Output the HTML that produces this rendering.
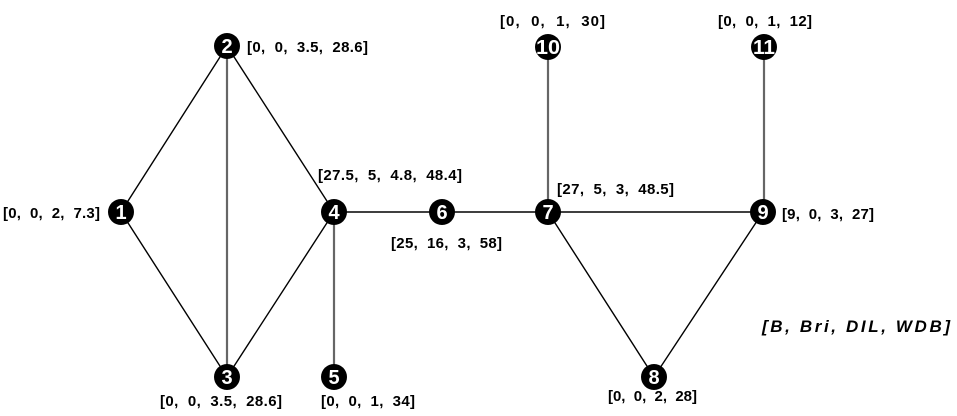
<!DOCTYPE html>
<html><head><meta charset="utf-8"><style>
html,body{margin:0;padding:0;background:#fff;}
svg{display:block;}
text{font-family:"Liberation Sans",Arial,sans-serif;font-weight:bold;font-size:15px;fill:#000;white-space:pre;}
.n{fill:#fff;font-size:20px;text-anchor:middle;}
</style></head><body>
<svg width="957" height="416" viewBox="0 0 957 416">
<g stroke="#000" stroke-width="1.4" fill="none">
<line x1="227" y1="46" x2="121" y2="212"/>
<line x1="227" y1="46" x2="334" y2="212"/>
<line x1="121" y1="212" x2="227" y2="377"/>
<line x1="334" y1="212" x2="227" y2="377"/>
<line x1="334" y1="212" x2="548" y2="212"/>
<line x1="548" y1="212" x2="763" y2="212"/>
<line x1="548" y1="212" x2="654" y2="377"/>
<line x1="763" y1="212" x2="654" y2="377"/>
</g>
<g stroke="#666" stroke-width="2.2">
<line x1="227" y1="46" x2="227" y2="377"/>
<line x1="334" y1="212" x2="334" y2="377"/>
<line x1="548" y1="47" x2="548" y2="212"/>
<line x1="764" y1="47" x2="764" y2="212"/>
</g>
<g fill="#000">
<circle cx="121" cy="212" r="13"/><circle cx="227" cy="46" r="13"/>
<circle cx="227" cy="377" r="13"/><circle cx="334" cy="212" r="13"/>
<circle cx="334" cy="377" r="13"/><circle cx="442" cy="212" r="13"/>
<circle cx="548" cy="212" r="13"/><circle cx="654" cy="377" r="13"/>
<circle cx="763" cy="212" r="13"/><circle cx="548" cy="47" r="13"/>
<circle cx="764" cy="47" r="13"/>
</g>
<text class="n" x="121" y="219">1</text>
<text class="n" x="227" y="53">2</text>
<text class="n" x="227" y="384">3</text>
<text class="n" x="334" y="219">4</text>
<text class="n" x="334" y="384">5</text>
<text class="n" x="442" y="219">6</text>
<text class="n" x="548" y="219">7</text>
<text class="n" x="654" y="384">8</text>
<text class="n" x="763" y="219">9</text>
<text class="n" x="548" y="54" textLength="24" lengthAdjust="spacingAndGlyphs">10</text>
<text class="n" x="764" y="54" textLength="22" lengthAdjust="spacingAndGlyphs">11</text>
<text x="3" y="218" textLength="97" lengthAdjust="spacing">[0,  0,  2,  7.3]</text>
<text x="247" y="52" textLength="121" lengthAdjust="spacing">[0,  0,  3.5,  28.6]</text>
<text x="160" y="406" textLength="122" lengthAdjust="spacing">[0,  0,  3.5,  28.6]</text>
<text x="318" y="180" textLength="144" lengthAdjust="spacing">[27.5,  5,  4.8,  48.4]</text>
<text x="321" y="406" textLength="94" lengthAdjust="spacing">[0,  0,  1,  34]</text>
<text x="391" y="248" textLength="111" lengthAdjust="spacing">[25,  16,  3,  58]</text>
<text x="557" y="194" textLength="117" lengthAdjust="spacing">[27,  5,  3,  48.5]</text>
<text x="608" y="401" textLength="89" lengthAdjust="spacing">[0,  0,  2,  28]</text>
<text x="782" y="219" textLength="92" lengthAdjust="spacing">[9,  0,  3,  27]</text>
<text x="500" y="26" textLength="105" lengthAdjust="spacing">[0,  0,  1,  30]</text>
<text x="718" y="26" textLength="94" lengthAdjust="spacing">[0,  0,  1,  12]</text>
<text x="762" y="332" style="font-style:italic;font-size:17px" textLength="188" lengthAdjust="spacing">[B, Bri, DIL, WDB]</text>
</svg>
</body></html>
